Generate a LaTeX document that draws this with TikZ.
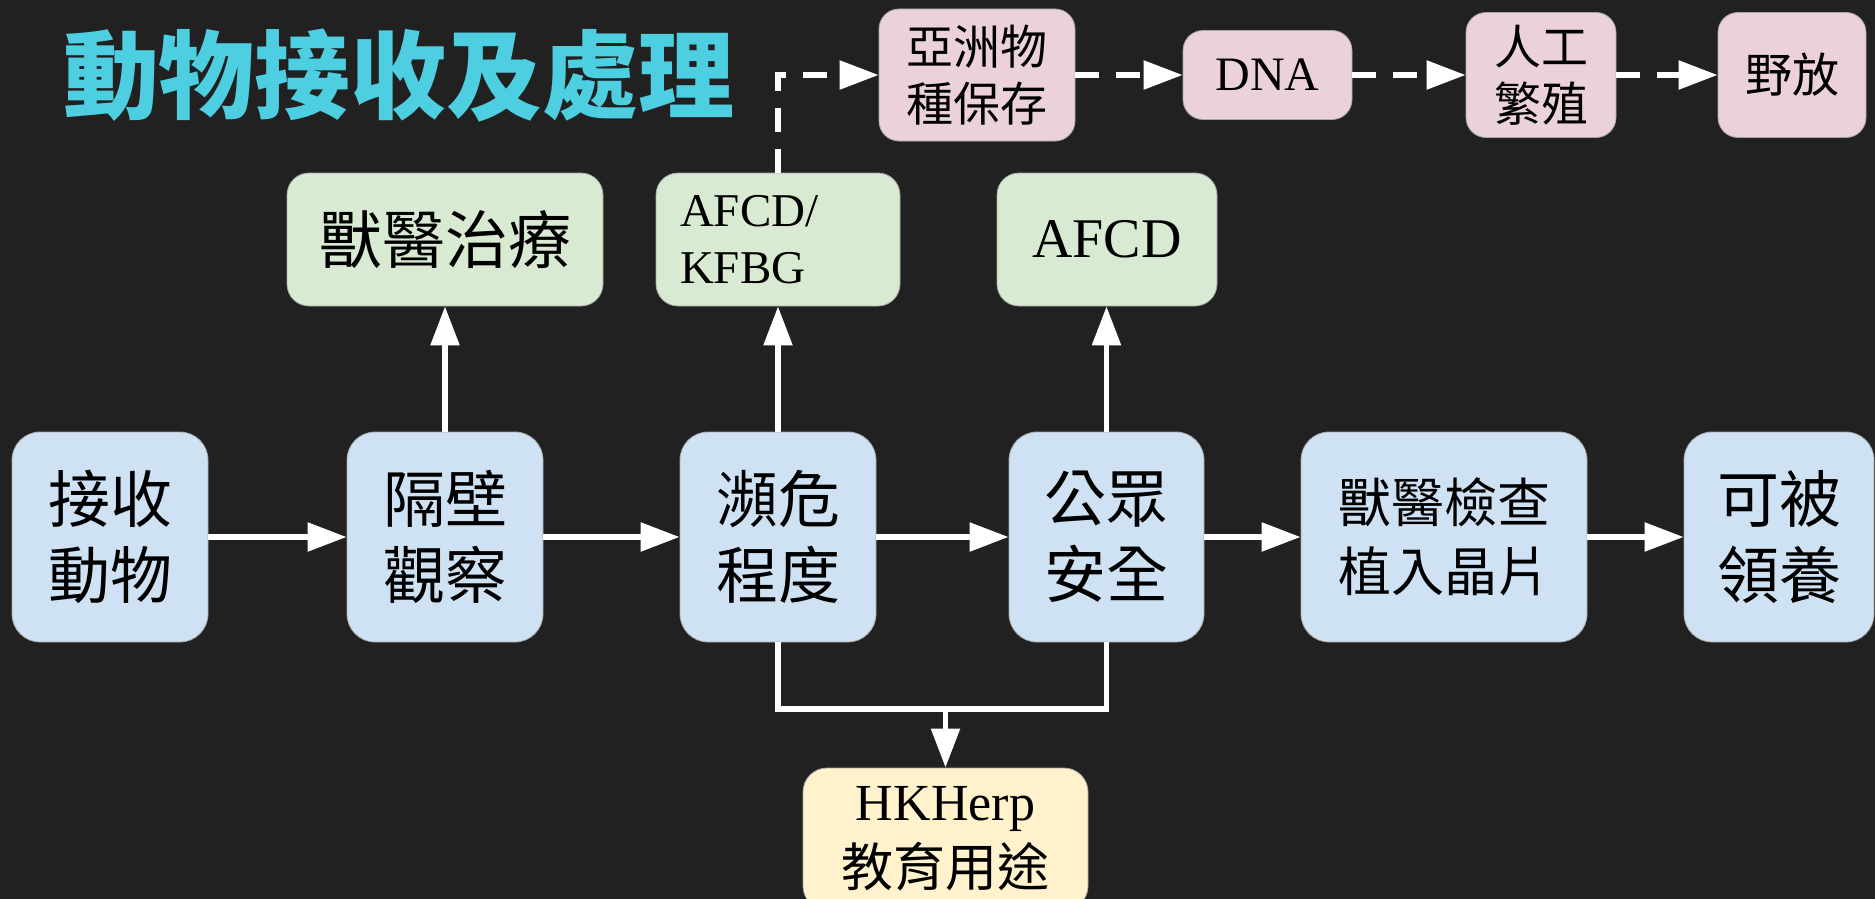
\documentclass[tikz,border=0pt]{standalone}
\usepackage{fontspec}
\setmainfont{Liberation Serif}
\newfontfamily\cjk{Noto Sans CJK TC}
\usetikzlibrary{arrows.meta}
\definecolor{bgc}{HTML}{212121}
\definecolor{bblue}{HTML}{CFE2F3}
\definecolor{bgreen}{HTML}{D9EAD3}
\definecolor{bpink}{HTML}{EAD1DC}
\definecolor{byellow}{HTML}{FFF2CC}
\definecolor{tcyan}{HTML}{4DCFE1}
\tikzset{
  box/.style={rounded corners=28pt, draw=black!35, line width=0.8pt, inner sep=0pt, align=center, text=black},
  bluebox/.style={box, fill=bblue, minimum height=210pt, font=\cjk\fontsize{62}{76}\selectfont},
  greenbox/.style={box, fill=bgreen, rounded corners=22pt, minimum height=133pt},
  pinkbox/.style={box, fill=bpink, rounded corners=20pt, font=\cjk\fontsize{47}{57}\selectfont},
  yellowbox/.style={box, fill=byellow, rounded corners=24pt},
  flow/.style={draw=white, line width=5.5pt, -{Triangle[length=39pt,width=28pt]}},
  plainline/.style={draw=white, line width=5.5pt},
  dflow/.style={flow, dash pattern=on 24pt off 17pt},
}
\begin{document}
\begin{tikzpicture}[x=1pt,y=-1pt]
\fill[bgc] (0,0) rectangle (1875,899);
\useasboundingbox (0,0) rectangle (1875,899);

\node[text=tcyan, font=\cjk\bfseries\fontsize{96}{100}\selectfont, inner sep=0pt] (title) at (399,76) {動物接收及處理};

% main row
\node[bluebox, minimum width=196pt] (recv) at (110,537) {接收\\動物};
\node[bluebox, minimum width=196pt] (iso) at (445,537) {隔壁\\觀察};
\node[bluebox, minimum width=196pt] (endg) at (778,537) {瀕危\\程度};
\node[bluebox, minimum width=195pt] (pub) at (1106.5,537) {公眾\\安全};
\node[bluebox, minimum width=286pt, font=\cjk\fontsize{53}{69}\selectfont] (vet) at (1444,537) {獸醫檢查\\植入晶片};
\node[bluebox, minimum width=190pt] (adopt) at (1779,537) {可被\\領養};

% green row
\node[greenbox, minimum width=316pt, font=\cjk\fontsize{63}{72}\selectfont] (treat) at (445,239.5) {獸醫治療};
\node[greenbox, minimum width=244pt, text width=196pt, align=left, font=\fontsize{47}{57}\selectfont] (afk) at (778,239.5) {AFCD/\\KFBG};
\node[greenbox, minimum width=220pt, font=\fontsize{56}{60}\selectfont] (afcd) at (1107,239.5) {AFCD};

% pink row
\node[pinkbox, minimum width=196pt, minimum height=132pt] (asia) at (977,75) {亞洲物\\種保存};
\node[pinkbox, minimum width=169pt, minimum height=89pt, font=\fontsize{48}{56}\selectfont] (dna) at (1267.5,75) {DNA};
\node[pinkbox, minimum width=150pt, minimum height=125pt] (breed) at (1541,75) {人工\\繁殖};
\node[pinkbox, minimum width=148pt, minimum height=125pt] (rel) at (1792,75) {野放};

% yellow
\node[yellowbox, minimum width=285pt, minimum height=142pt, font=\fontsize{52}{66}\selectfont] (herp) at (945.5,839) {HKHerp\\{\cjk 教育用途}};

% connectors
\draw[flow] (recv) -- (iso);
\draw[flow] (iso) -- (endg);
\draw[flow] (endg) -- (pub);
\draw[flow] (pub) -- (vet);
\draw[flow] (vet) -- (adopt);
\draw[flow] (iso) -- (treat);
\draw[flow] (endg) -- (afk);
\draw[flow] (pub.north) -- (pub.north |- afcd.south);
\coordinate (j) at (945.5,709);
\draw[plainline] (endg.south) -- (endg.south |- j) -- (pub.south |- j) -- (pub.south);
\draw[flow] (j) -- (herp);
\draw[dflow] (afk.north) -- (afk.north |- asia.west) -- (asia.west);
\draw[dflow] (asia) -- (dna);
\draw[dflow] (dna) -- (breed);
\draw[dflow] (breed) -- (rel);
\end{tikzpicture}
\end{document}
